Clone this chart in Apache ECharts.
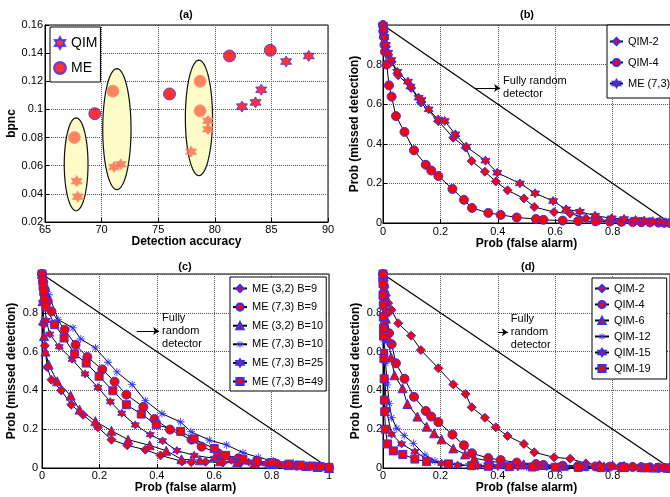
<!DOCTYPE html>
<html>
<head>
<meta charset="utf-8">
<script src="https://cdn.jsdelivr.net/npm/echarts@6/dist/echarts.min.js"></script>
<style>
  html, body { margin: 0; padding: 0; background: #fff; }
  #chart { width: 670px; height: 497px; }
</style>
</head>
<body>
<div id="chart"></div>
<script>
// ---------- panel (a): bpnc vs detection accuracy ----------
const qimX = [86.3, 88.3, 82.4, 83.6, 84.1];
const qimY = [0.134, 0.138, 0.102, 0.105, 0.114];
const meX = [69.4, 76.0, 81.3, 84.9];
const meY = [0.097, 0.111, 0.138, 0.142];
// points inside the yellow ellipses
const qimHiX = [67.8, 67.9, 71.1, 71.7, 77.9, 79.4, 79.4];
const qimHiY = [0.049, 0.038, 0.059, 0.061, 0.070, 0.092, 0.086];
const meHiX = [67.6, 71.0, 78.7, 78.7];
const meHiY = [0.080, 0.113, 0.120, 0.099];
// ellipses: centre and half-widths in data units
const ellCx = [67.75, 71.35, 78.6];
const ellCy = [0.061, 0.086, 0.094];
const ellRx = [1.05, 1.25, 1.2];
const ellRy = [0.033, 0.043, 0.041];

// ---------- panels (b) and (d): QIM curves ----------
const qim2X = [0, 0.002, 0.005, 0.01, 0.018, 0.03, 0.053, 0.098, 0.132, 0.193, 0.245, 0.288, 0.309, 0.355, 0.393, 0.434, 0.491, 0.527, 0.596, 0.652, 0.707, 0.754, 0.8, 0.84, 0.87, 0.9, 0.93, 0.955, 0.98, 1];
const qim2Y = [1, 0.965, 0.93, 0.89, 0.85, 0.814, 0.746, 0.682, 0.608, 0.514, 0.431, 0.381, 0.313, 0.259, 0.21, 0.165, 0.124, 0.081, 0.055, 0.048, 0.024, 0.015, 0.012, 0.01, 0.008, 0.006, 0.004, 0.003, 0.002, 0];
const qim4X = [0, 0.001, 0.003, 0.005, 0.007, 0.013, 0.021, 0.03, 0.045, 0.075, 0.108, 0.149, 0.168, 0.193, 0.242, 0.282, 0.31, 0.367, 0.41, 0.466, 0.533, 0.559, 0.626, 0.68, 0.74, 0.79, 0.83, 0.87, 0.9, 0.93, 0.96, 0.98, 1];
const qim4Y = [1, 0.97, 0.94, 0.9, 0.865, 0.8, 0.695, 0.638, 0.54, 0.46, 0.367, 0.294, 0.265, 0.237, 0.172, 0.117, 0.076, 0.051, 0.041, 0.028, 0.02, 0.016, 0.012, 0.01, 0.008, 0.007, 0.006, 0.005, 0.004, 0.003, 0.002, 0.001, 0];
const me73X = [0, 0.002, 0.005, 0.01, 0.018, 0.029, 0.05, 0.087, 0.096, 0.124, 0.134, 0.159, 0.192, 0.215, 0.252, 0.29, 0.357, 0.398, 0.477, 0.53, 0.593, 0.638, 0.686, 0.739, 0.797, 0.84, 0.88, 0.91, 0.94, 0.965, 0.985, 1];
const me73Y = [1, 0.975, 0.94, 0.9, 0.86, 0.823, 0.764, 0.714, 0.689, 0.633, 0.621, 0.574, 0.523, 0.515, 0.448, 0.386, 0.315, 0.254, 0.2, 0.15, 0.111, 0.069, 0.057, 0.037, 0.024, 0.02, 0.015, 0.012, 0.009, 0.006, 0.003, 0];

const qim6X = [0, 0.002, 0.005, 0.01, 0.018, 0.028, 0.04, 0.068, 0.085, 0.12, 0.152, 0.178, 0.204, 0.245, 0.286, 0.318, 0.373, 0.42, 0.49, 0.56, 0.63, 0.7, 0.77, 0.84, 0.9, 0.95, 1];
const qim6Y = [1, 0.93, 0.86, 0.77, 0.67, 0.57, 0.478, 0.411, 0.33, 0.265, 0.213, 0.179, 0.148, 0.101, 0.07, 0.05, 0.036, 0.024, 0.019, 0.015, 0.012, 0.01, 0.008, 0.006, 0.004, 0.002, 0];
const qim12X = [0, 0.001, 0.003, 0.005, 0.009, 0.015, 0.022, 0.03, 0.048, 0.074, 0.106, 0.146, 0.181, 0.228, 0.297, 0.36, 0.43, 0.5, 0.57, 0.64, 0.71, 0.78, 0.85, 0.92, 1];
const qim12Y = [1, 0.9, 0.78, 0.65, 0.54, 0.428, 0.333, 0.26, 0.205, 0.167, 0.127, 0.067, 0.036, 0.021, 0.012, 0.009, 0.007, 0.006, 0.005, 0.004, 0.003, 0.002, 0.002, 0.001, 0];
const qim15X = [0, 0.001, 0.002, 0.004, 0.007, 0.012, 0.03, 0.065, 0.111, 0.158, 0.204, 0.26, 0.33, 0.4, 0.47, 0.54, 0.61, 0.68, 0.75, 0.82, 0.89, 0.95, 1];
const qim15Y = [1, 0.88, 0.75, 0.6, 0.45, 0.3, 0.174, 0.124, 0.084, 0.041, 0.024, 0.015, 0.01, 0.008, 0.006, 0.005, 0.004, 0.003, 0.003, 0.002, 0.001, 0.001, 0];
const qim19X = [0, 0, 0, 0.001, 0.001, 0.002, 0.002, 0.003, 0.004, 0.005, 0.006, 0.008, 0.016, 0.036, 0.069, 0.111, 0.152, 0.228, 0.309, 0.367, 0.44, 0.52, 0.6, 0.68, 0.76, 0.84, 0.92, 1];
const qim19Y = [1, 0.95, 0.89, 0.84, 0.78, 0.72, 0.68, 0.565, 0.46, 0.35, 0.29, 0.2, 0.124, 0.088, 0.07, 0.046, 0.033, 0.021, 0.012, 0.009, 0.007, 0.005, 0.004, 0.003, 0.002, 0.002, 0.001, 0];

// ---------- panel (c): ME curves ----------
const me32b9X = [0, 0.003, 0.006, 0.01, 0.018, 0.033, 0.067, 0.102, 0.143, 0.195, 0.242, 0.297, 0.36, 0.413, 0.488, 0.52, 0.57, 0.63, 0.69, 0.75, 0.81, 0.87, 0.93, 0.97, 1];
const me32b9Y = [1, 0.86, 0.74, 0.63, 0.52, 0.455, 0.4, 0.326, 0.274, 0.21, 0.146, 0.117, 0.094, 0.065, 0.034, 0.03, 0.032, 0.028, 0.025, 0.022, 0.018, 0.013, 0.008, 0.004, 0];
const me73b9X = [0, 0.004, 0.01, 0.02, 0.033, 0.079, 0.117, 0.158, 0.21, 0.253, 0.294, 0.353, 0.392, 0.446, 0.521, 0.556, 0.614, 0.684, 0.748, 0.818, 0.887, 0.957, 1];
const me73b9Y = [1, 0.96, 0.92, 0.86, 0.807, 0.713, 0.635, 0.572, 0.508, 0.445, 0.378, 0.315, 0.252, 0.198, 0.146, 0.11, 0.076, 0.05, 0.033, 0.021, 0.012, 0.005, 0.002];
const me32b10X = [0, 0.002, 0.004, 0.007, 0.012, 0.023, 0.053, 0.1, 0.131, 0.186, 0.242, 0.3, 0.375, 0.433, 0.486, 0.55, 0.62, 0.68, 0.74, 0.8, 0.86, 0.92, 0.96, 1];
const me32b10Y = [1, 0.86, 0.76, 0.68, 0.6, 0.533, 0.447, 0.373, 0.301, 0.241, 0.192, 0.146, 0.117, 0.089, 0.045, 0.04, 0.035, 0.03, 0.025, 0.02, 0.015, 0.01, 0.005, 0];
const me73b10X = [0, 0.003, 0.008, 0.015, 0.024, 0.056, 0.108, 0.135, 0.186, 0.23, 0.261, 0.314, 0.36, 0.418, 0.483, 0.519, 0.583, 0.643, 0.7, 0.754, 0.806, 0.876, 0.934, 0.97, 1];
const me73b10Y = [1, 0.97, 0.94, 0.91, 0.893, 0.765, 0.722, 0.665, 0.619, 0.545, 0.495, 0.43, 0.347, 0.28, 0.237, 0.187, 0.144, 0.119, 0.079, 0.055, 0.036, 0.024, 0.012, 0.006, 0.002];
const me73b25X = [0, 0.003, 0.008, 0.015, 0.027, 0.06, 0.105, 0.15, 0.195, 0.238, 0.278, 0.325, 0.377, 0.42, 0.47, 0.53, 0.6, 0.66, 0.72, 0.78, 0.84, 0.9, 0.95, 1];
const me73b25Y = [1, 0.93, 0.86, 0.76, 0.69, 0.625, 0.56, 0.485, 0.415, 0.342, 0.282, 0.222, 0.172, 0.14, 0.09, 0.065, 0.05, 0.04, 0.03, 0.022, 0.015, 0.01, 0.005, 0];
const me73b49X = [0, 0.002, 0.004, 0.006, 0.009, 0.014, 0.044, 0.077, 0.114, 0.154, 0.199, 0.247, 0.294, 0.346, 0.398, 0.483, 0.53, 0.6, 0.64, 0.7, 0.75, 0.8, 0.86, 0.9, 0.94, 0.97, 1];
const me73b49Y = [1, 0.97, 0.94, 0.91, 0.87, 0.83, 0.739, 0.67, 0.588, 0.541, 0.473, 0.398, 0.326, 0.278, 0.223, 0.189, 0.15, 0.1, 0.065, 0.045, 0.035, 0.028, 0.02, 0.015, 0.01, 0.007, 0.003];

// fully random detector + annotation arrow (per panel b, c, d)
const diagX = [0, 1];
const diagY = [1, 0];
const arrowFromX = [0.317, 0.33, 0.40];
const arrowToX = [0.408, 0.408, 0.435];
const arrowY = [0.682, 0.706, 0.70];
const annotText = ['Fully random\ndetector', 'Fully\nrandom\ndetector', 'Fully\nrandom\ndetector'];

const FONT = "'Liberation Sans', Arial, sans-serif";
const RED = '#ff0000';
const BLUE = '#3030ff';
const HEX = 'path://M50 0L64.43 25L93.3 25L78.87 50L93.3 75L64.43 75L50 100L35.57 75L6.7 75L21.13 50L6.7 25L35.57 25Z';
const AST = 'path://M45 0H55V100H45Z M0 45H100V55H0Z M18.5 11.5L88.5 81.5L81.5 88.5L11.5 18.5Z M81.5 11.5L88.5 18.5L18.5 88.5L11.5 81.5Z';

const zip = (xs, ys) => xs.map((x, i) => [x, ys[i]]);
const fmt01 = (v) => (Math.abs(v - 1) < 1e-9 ? '' : String(+v.toFixed(1)));
const fmt01c = (v) => String(+v.toFixed(1));

function makeAxis(gi, isX, min, max, interval, name, nameGap, fmt, margin) {
  return {
    type: 'value', gridIndex: gi, min, max, interval,
    name, nameLocation: 'middle', nameGap,
    nameRotate: isX ? 0 : 90,
    nameTextStyle: { fontFamily: FONT, fontWeight: 'bold', fontSize: 12, color: '#000' },
    axisLine: { show: true, onZero: false, lineStyle: { color: '#000', width: 1 } },
    axisTick: { show: true, inside: true, length: 4, lineStyle: { color: '#000' } },
    axisLabel: { color: '#000', fontSize: 11, fontFamily: FONT, margin, formatter: fmt },
    splitLine: { show: true, lineStyle: { type: 'dotted', color: '#555', width: 1 } }
  };
}

function curve(name, gi, xs, ys, symbol, size, extra) {
  return Object.assign({
    name, type: 'line', xAxisIndex: gi, yAxisIndex: gi,
    data: zip(xs, ys), symbol, symbolSize: size, showSymbol: true,
    lineStyle: { color: '#000', width: 1 },
    itemStyle: { color: RED, borderColor: BLUE, borderWidth: 1 },
    animation: false, z: 3
  }, extra || {});
}

function diag(gi, k) {
  return {
    name: 'diag' + gi, type: 'line', xAxisIndex: gi, yAxisIndex: gi,
    data: zip(diagX, diagY), symbol: 'none',
    lineStyle: { color: '#000', width: 1.2 }, animation: false, z: 2,
    markLine: {
      silent: true, animation: false,
      symbol: ['none', 'arrow'], symbolSize: 6,
      lineStyle: { color: '#000', type: 'solid', width: 1 },
      label: {
        show: true, position: 'end', distance: 3, formatter: annotText[k],
        color: '#000', fontSize: 11, fontFamily: FONT, lineHeight: 13
      },
      data: [[{ coord: [arrowFromX[k], arrowY[k]] }, { coord: [arrowToX[k], arrowY[k]] }]]
    }
  };
}

const astStyle = { itemStyle: { color: BLUE, borderWidth: 0 } };
const hiStyle = { color: '#ff6845', borderColor: '#f2937a', borderWidth: 1 };

const grids = [
  { left: 45, top: 25, width: 283, height: 197 },
  { left: 383, top: 25, width: 287, height: 198 },
  { left: 42, top: 274, width: 287, height: 194 },
  { left: 383, top: 274, width: 287, height: 194 }
].map(g => Object.assign(g, { show: true, borderColor: '#000', borderWidth: 1, backgroundColor: 'transparent', containLabel: false, outerBoundsMode: 'none' }));

const legendBase = {
  orient: 'vertical', borderColor: '#000', borderWidth: 1, backgroundColor: '#fff',
  borderRadius: 0, textStyle: { fontSize: 11, fontFamily: FONT, color: '#000' }
};

const option = {
  backgroundColor: '#fff',
  animation: false,
  title: [
    { text: '(a)', left: 186, top: 9 },
    { text: '(b)', left: 527, top: 9 },
    { text: '(c)', left: 185, top: 261 },
    { text: '(d)', left: 528, top: 261 }
  ].map(t => Object.assign(t, { textAlign: 'center', padding: 0, textStyle: { fontSize: 11, fontWeight: 'bold', fontFamily: FONT, color: '#000' } })),
  grid: grids,
  xAxis: [
    makeAxis(0, true, 65, 90, 5, 'Detection accuracy', 13, (v) => String(v), 2),
    makeAxis(1, true, 0, 1, 0.2, 'Prob (false alarm)', 9, fmt01, 3),
    makeAxis(2, true, 0, 1, 0.2, 'Prob (false alarm)', 8, fmt01c, 2),
    makeAxis(3, true, 0, 1, 0.2, 'Prob (false alarm)', 11, fmt01, 2)
  ],
  yAxis: [
    makeAxis(0, false, 0.02, 0.16, 0.02, 'bpnc', 27, (v) => String(+v.toFixed(2)), 2),
    makeAxis(1, false, 0, 1, 0.2, 'Prob (missed detection)', 22, fmt01, 1),
    makeAxis(2, false, 0, 1, 0.2, 'Prob (missed detection)', 24, fmt01, 4),
    makeAxis(3, false, 0, 1, 0.2, 'Prob (missed detection)', 21, fmt01, 1)
  ],
  legend: [
    Object.assign({}, legendBase, {
      data: ['QIM', 'ME'], left: 50, top: 27, padding: [9, 3, 7, 3], itemGap: 11,
      itemWidth: 12, itemHeight: 12, textStyle: { fontSize: 14, fontFamily: FONT, color: '#000' }
    }),
    Object.assign({}, legendBase, {
      data: ['QIM-2', 'QIM-4', 'ME (7,3)'], left: 607, top: 25, padding: [11, 4, 9, 2], itemGap: 10,
      itemWidth: 13, itemHeight: 9
    }),
    Object.assign({}, legendBase, {
      data: ['ME (3,2) B=9', 'ME (7,3) B=9', 'ME (3,2) B=10', 'ME (7,3) B=10', 'ME (7,3) B=25', 'ME (7,3) B=49'],
      left: 230, top: 277, padding: [6, 3, 4, 2], itemGap: 7.6, itemWidth: 14, itemHeight: 9
    }),
    Object.assign({}, legendBase, {
      data: ['QIM-2', 'QIM-4', 'QIM-6', 'QIM-12', 'QIM-15', 'QIM-19'],
      left: 592, top: 278, padding: [5, 16, 5, 2], itemGap: 5, itemWidth: 14, itemHeight: 9
    })
  ],
  series: [
    // (a)
    {
      name: 'ellipses', type: 'custom', xAxisIndex: 0, yAxisIndex: 0, z: 1,
      data: ellCx.map((c, i) => [c, ellCy[i], ellRx[i], ellRy[i]]),
      renderItem: (params, api) => {
        const cx = api.value(0), cy = api.value(1), rx = api.value(2), ry = api.value(3);
        const pts = [];
        for (let k = 0; k <= 72; k++) {
          const t = (k / 72) * 2 * Math.PI;
          pts.push(api.coord([cx + rx * Math.cos(t), cy + ry * Math.sin(t)]));
        }
        return { type: 'polygon', shape: { points: pts }, style: { fill: '#fdfbc6', stroke: '#111', lineWidth: 1.2 } };
      }
    },
    { name: 'QIM', type: 'scatter', xAxisIndex: 0, yAxisIndex: 0, data: zip(qimX, qimY), symbol: HEX, symbolSize: 11, itemStyle: { color: RED, borderColor: BLUE, borderWidth: 1 }, z: 3 },
    { name: 'ME', type: 'scatter', xAxisIndex: 0, yAxisIndex: 0, data: zip(meX, meY), symbol: 'circle', symbolSize: 12, itemStyle: { color: RED, borderColor: BLUE, borderWidth: 1 }, z: 3 },
    { name: 'QIM-sel', type: 'scatter', xAxisIndex: 0, yAxisIndex: 0, data: zip(qimHiX, qimHiY), symbol: HEX, symbolSize: 11, itemStyle: hiStyle, z: 3 },
    { name: 'ME-sel', type: 'scatter', xAxisIndex: 0, yAxisIndex: 0, data: zip(meHiX, meHiY), symbol: 'circle', symbolSize: 12, itemStyle: hiStyle, z: 3 },
    // (b)
    diag(1, 0),
    curve('QIM-2', 1, qim2X, qim2Y, 'diamond', 9),
    curve('QIM-4', 1, qim4X, qim4Y, 'circle', 9),
    curve('ME (7,3)', 1, me73X, me73Y, HEX, 9),
    // (c)
    diag(2, 1),
    curve('ME (3,2) B=9', 2, me32b9X, me32b9Y, 'diamond', 9),
    curve('ME (7,3) B=9', 2, me73b9X, me73b9Y, 'circle', 9),
    curve('ME (3,2) B=10', 2, me32b10X, me32b10Y, 'triangle', 9),
    curve('ME (7,3) B=10', 2, me73b10X, me73b10Y, AST, 8, astStyle),
    curve('ME (7,3) B=25', 2, me73b25X, me73b25Y, HEX, 8),
    curve('ME (7,3) B=49', 2, me73b49X, me73b49Y, 'rect', 8),
    // (d)
    diag(3, 2),
    curve('QIM-2', 3, qim2X, qim2Y, 'diamond', 9),
    curve('QIM-4', 3, qim4X, qim4Y, 'circle', 9),
    curve('QIM-6', 3, qim6X, qim6Y, 'triangle', 9),
    curve('QIM-12', 3, qim12X, qim12Y, AST, 8, astStyle),
    curve('QIM-15', 3, qim15X, qim15Y, HEX, 8),
    curve('QIM-19', 3, qim19X, qim19Y, 'rect', 8)
  ]
};

const chart = echarts.init(document.getElementById('chart'), null, { renderer: 'canvas' });
chart.setOption(option);
</script>
</body>
</html>
